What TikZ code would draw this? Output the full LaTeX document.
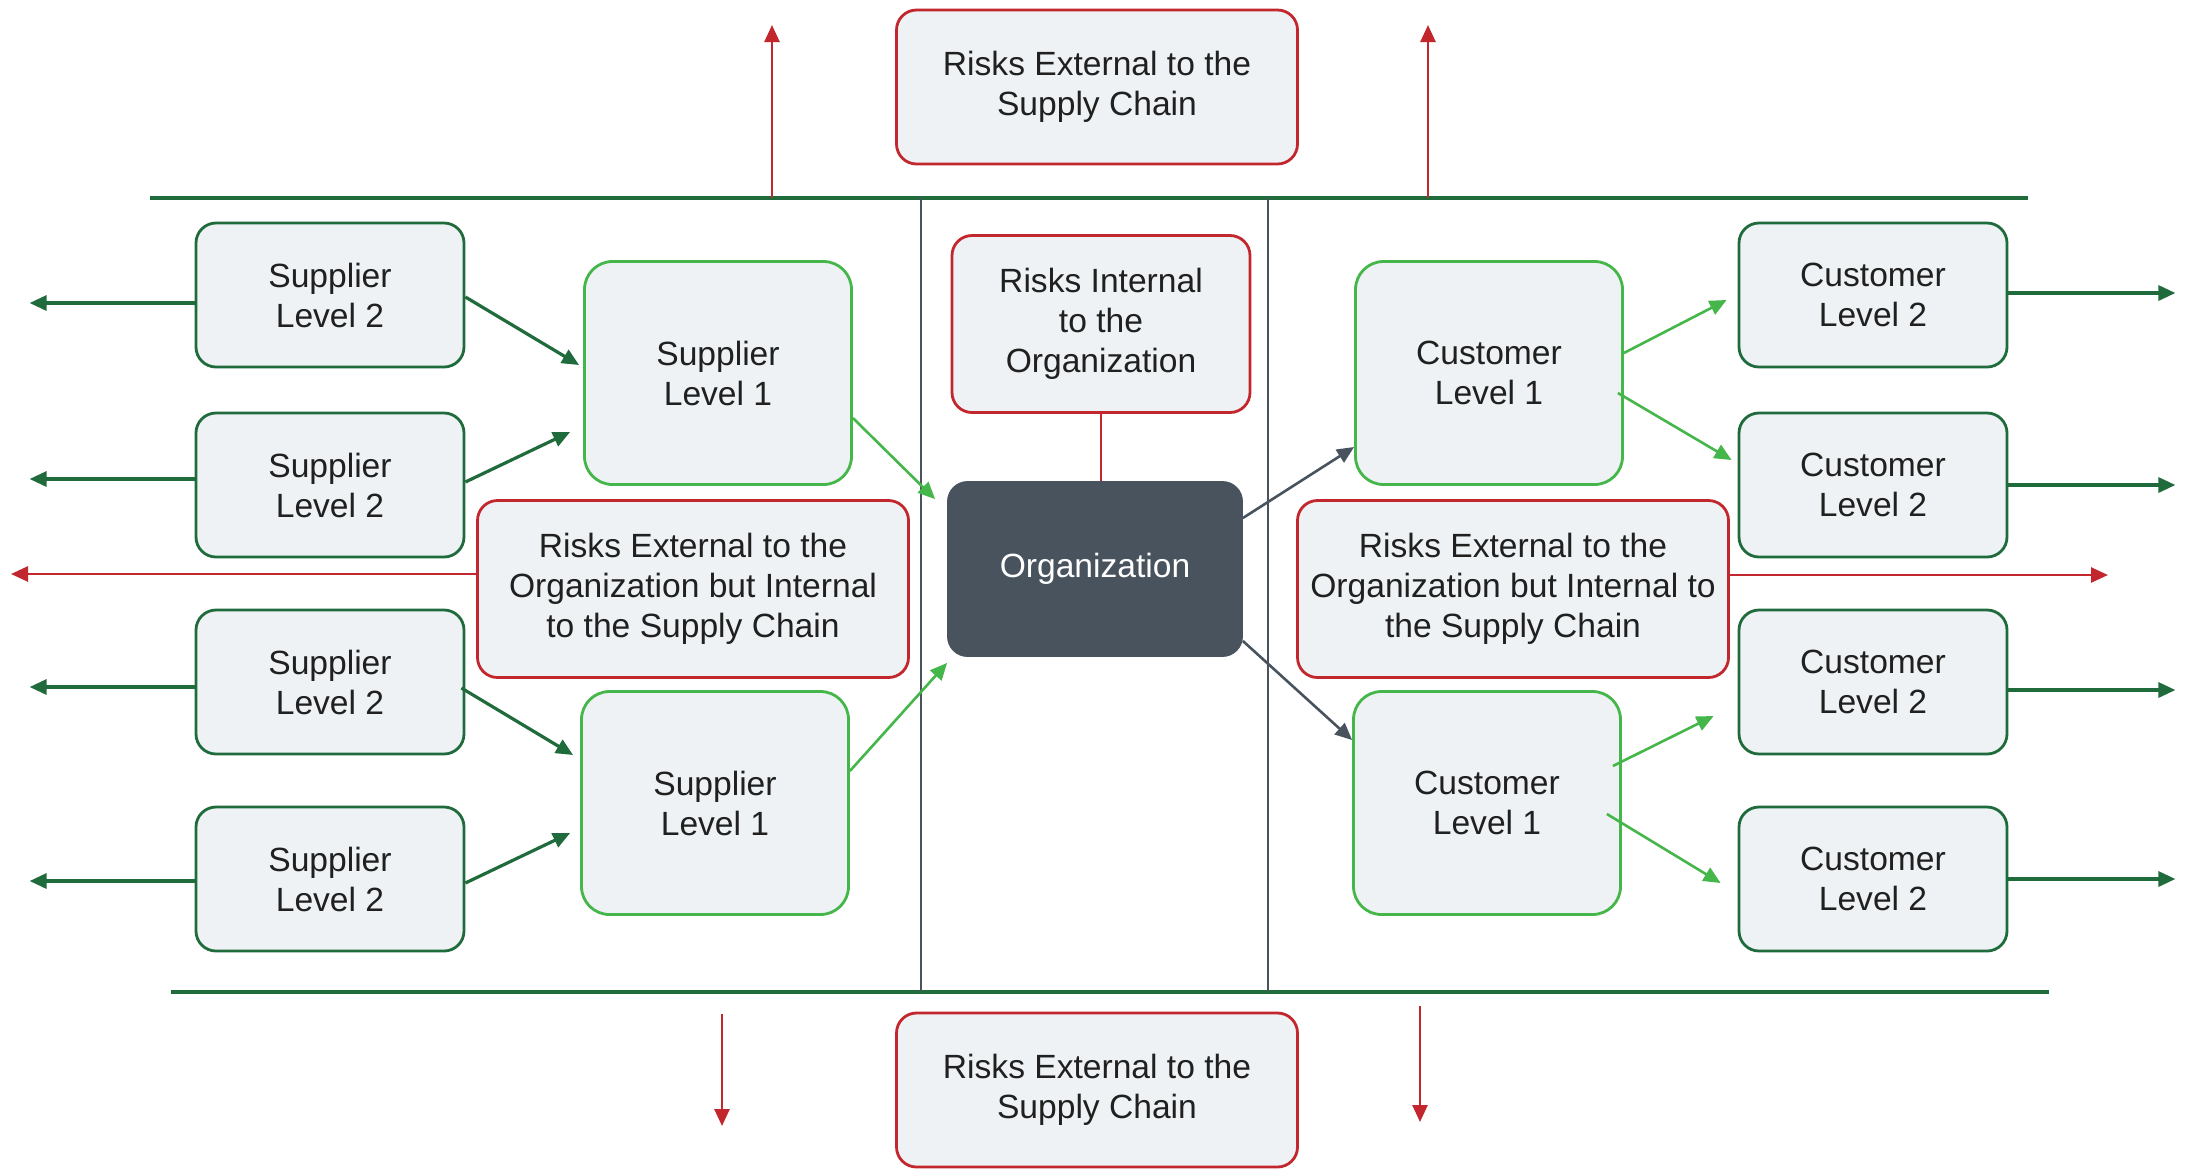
\documentclass[tikz,border=0pt]{standalone}
\usepackage{fontspec}
\setmainfont{Liberation Sans}
\usetikzlibrary{arrows.meta,calc}

\definecolor{boxfill}{HTML}{EEF2F4}
\definecolor{darkgreen}{HTML}{1F6B3C}
\definecolor{lightgreen}{HTML}{45B649}
\definecolor{riskred}{HTML}{C3272E}
\definecolor{slate}{HTML}{48535E}
\definecolor{txt}{HTML}{202020}

\tikzset{
  base/.style={rounded corners=10pt, fill=boxfill, line width=1.4pt, align=center,
    text=txt, font=\fontsize{16.8}{20}\selectfont, inner sep=0pt},
  lvltwo/.style={base, draw=darkgreen, minimum width=134pt, minimum height=72pt},
  lvlone/.style={base, draw=lightgreen, rounded corners=14pt, minimum width=133.5pt, minimum height=111.5pt},
  riskbox/.style={base, draw=riskred},
  orgbox/.style={rounded corners=10pt, fill=slate, draw=slate, text=white, align=center,
    font=\fontsize{16.8}{20}\selectfont, minimum width=147.5pt, minimum height=87.5pt},
  tip/.style={-{Triangle[length=8.5pt,width=7.5pt]}},
  dkarrow/.style={tip, draw=darkgreen, fill=darkgreen, line width=1.6pt},
  ltarrow/.style={tip, draw=lightgreen, fill=lightgreen, line width=1.3pt},
  slarrow/.style={tip, draw=slate, fill=slate, line width=1.3pt},
  redarrow/.style={tip, draw=riskred, fill=riskred, line width=1.3pt},
  band/.style={draw=darkgreen, line width=1.7pt},
  divider/.style={draw=slate, line width=1.1pt},
}

\begin{document}
\begin{tikzpicture}[x=0.5pt,y=-0.5pt]
  % canvas
  \path[use as bounding box, fill=white] (0,0) rectangle (2185,1169);

  % supply chain band and the organization's column
  \draw[band] (150,198) -- (2028,198);
  \draw[band] (171,992) -- (2049,992);
  \draw[divider] (921,198) -- (921,992);
  \draw[divider] (1268,198) -- (1268,992);

  % risk boxes
  \node[riskbox, minimum width=200.5pt, minimum height=77pt] (topRisk) at (1097,87)
    {Risks External to the\\Supply Chain};
  \node[riskbox, minimum width=200.5pt, minimum height=77pt] (botRisk) at (1097,1090)
    {Risks External to the\\Supply Chain};
  \node[riskbox, minimum width=149pt, minimum height=88.5pt] (intRisk) at (1101,324)
    {Risks Internal\\to the\\Organization};
  \node[riskbox, minimum width=215.5pt, minimum height=88.5pt] (extL) at (693,589)
    {Risks External to the\\Organization but Internal\\to the Supply Chain};
  \node[riskbox, minimum width=215.5pt, minimum height=88.5pt] (extR) at (1513,589)
    {Risks External to the\\Organization but Internal to\\the Supply Chain};

  % organization
  \node[orgbox] (org) at (1095,569) {Organization};

  % suppliers
  \node[lvltwo] (sA) at (330,295) {Supplier\\Level 2};
  \node[lvltwo] (sB) at (330,485) {Supplier\\Level 2};
  \node[lvltwo] (sC) at (330,682) {Supplier\\Level 2};
  \node[lvltwo] (sD) at (330,879) {Supplier\\Level 2};
  \node[lvlone] (sOne) at (718,373) {Supplier\\Level 1};
  \node[lvlone] (sTwo) at (715,803) {Supplier\\Level 1};

  % customers
  \node[lvlone] (cOne) at (1489,373) {Customer\\Level 1};
  \node[lvlone] (cTwo) at (1487,803) {Customer\\Level 1};
  \node[lvltwo] (cA) at (1873,295) {Customer\\Level 2};
  \node[lvltwo] (cB) at (1873,485) {Customer\\Level 2};
  \node[lvltwo] (cC) at (1873,682) {Customer\\Level 2};
  \node[lvltwo] (cD) at (1873,879) {Customer\\Level 2};

  % risks leaving the supply chain
  \coordinate (upL) at (772,198);
  \coordinate (upR) at (1428,198);
  \draw[redarrow] (upL) -- (772,25);
  \draw[redarrow] (upR) -- (1428,25);
  \coordinate (dnL) at (722,1014);
  \coordinate (dnR) at (1420,1006);
  \draw[redarrow] (dnL) -- (722,1126);
  \draw[redarrow] (dnR) -- (1420,1122);
  \draw[redarrow] ($(extL.west)+(0,-15)$) -- (11,574);
  \draw[redarrow] ($(extR.east)+(0,-14)$) -- (2108,575);
  \draw[draw=riskred, line width=1.3pt] (intRisk.south) -- (intRisk.south |- org.north);

  % outward flows
  \draw[dkarrow] ($(sA.west)+(0,8)$) -- ++(-165,0);
  \draw[dkarrow] ($(sB.west)+(0,-6)$) -- ++(-165,0);
  \draw[dkarrow] ($(sC.west)+(0,5)$) -- ++(-165,0);
  \draw[dkarrow] ($(sD.west)+(0,2)$) -- ++(-165,0);
  \draw[dkarrow] ($(cA.east)+(0,-2)$) -- ++(167,0);
  \draw[dkarrow] ($(cB.east)+(0,0)$) -- ++(167,0);
  \draw[dkarrow] ($(cC.east)+(0,8)$) -- ++(167,0);
  \draw[dkarrow] ($(cD.east)+(0,0)$) -- ++(167,0);

  % supplier level 2 to level 1
  \draw[dkarrow] ($(sA.east)+(0,2)$) -- ($(sOne.west)+(-4,-8)$);
  \draw[dkarrow] ($(sB.east)+(0,-3)$) -- ($(sOne.west)+(-13,59)$);
  \draw[dkarrow] ($(sC.east)+(-4,6)$) -- ($(sTwo.west)+(-7,-48)$);
  \draw[dkarrow] ($(sD.east)+(0,4)$) -- ($(sTwo.west)+(-10,30)$);

  % supplier level 1 to organization
  \draw[ltarrow] ($(sOne.east)+(0,45)$) -- ($(org.north west)+(-12,18)$);
  \draw[ltarrow] ($(sTwo.east)+(0,-32)$) -- ($(org.south west)+(0,6)$);

  % organization to customer level 1
  \draw[slarrow] ($(org.east)+(0,-51)$) -- ($(cOne.west)+(0,74)$);
  \draw[slarrow] ($(org.east)+(0,72)$) -- ($(cTwo.west)+(0,-63)$);

  % customer level 1 to level 2
  \draw[ltarrow] ($(cOne.east)+(0,-20)$) -- ($(cA.west)+(-11,5)$);
  \draw[ltarrow] ($(cOne.east)+(-6,20)$) -- ($(cB.west)+(-6,-25)$);
  \draw[ltarrow] ($(cTwo.east)+(-9,-37)$) -- ($(cC.west)+(-24,34)$);
  \draw[ltarrow] ($(cTwo.east)+(-15,11)$) -- ($(cD.west)+(-17,4)$);
\end{tikzpicture}
\end{document}
